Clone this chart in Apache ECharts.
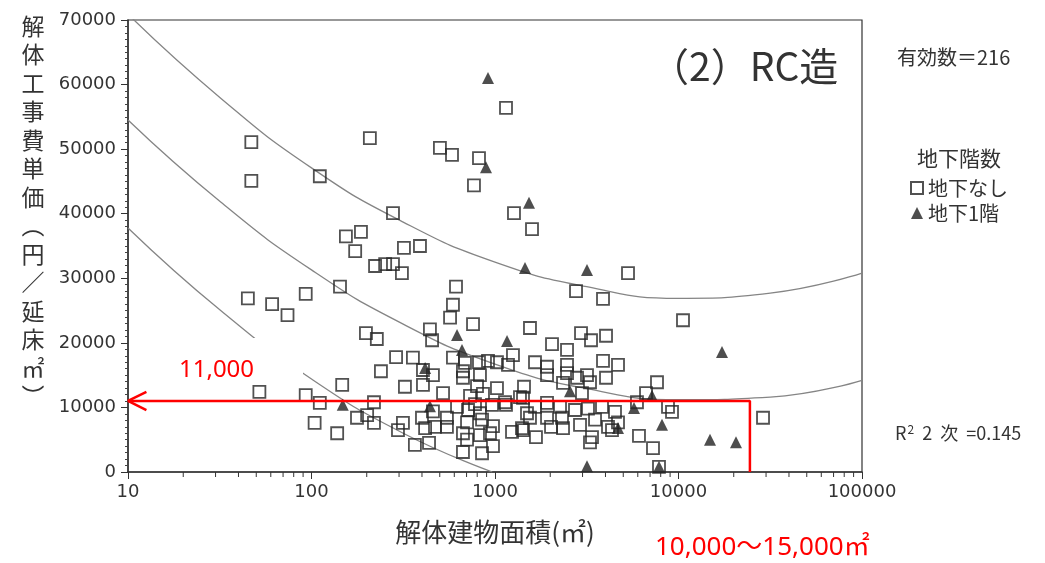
<!DOCTYPE html>
<html>
<head>
<meta charset="utf-8">
<script src="https://cdn.jsdelivr.net/npm/echarts@6/dist/echarts.min.js"></script>
<style>
  html, body { margin: 0; padding: 0; background: #fff; }
  #chart { width: 1045px; height: 563px; }
</style>
</head>
<body>
<div id="chart"></div>
<script>
// [延床面積 m², 単価 円/m²]
const noBasement = [
  [47, 51100], [47, 45100], [111, 45800], [208, 51700], [501, 50200], [583, 49100],
  [818, 48600], [768, 44400], [1148, 56400], [1269, 40100], [278, 40100], [1591, 37600],
  [154, 36500], [186, 37200], [173, 34200], [319, 34700], [390, 35000], [222, 31900],
  [252, 32200], [278, 32200], [311, 30800], [143, 28700], [613, 28700], [590, 25900],
  [45, 26900], [61, 26000], [74, 24300], [93, 27600], [52, 12400], [93, 11900],
  [111, 10700], [147, 13500], [219, 10800], [104, 7600], [138, 6000], [177, 8400],
  [201, 8800], [219, 7600], [198, 21500], [227, 20600], [239, 15600], [289, 17800],
  [357, 17700], [442, 22100], [454, 20400], [569, 23900], [759, 22900], [590, 17700],
  [459, 15000], [405, 15800], [669, 15600], [686, 16900], [818, 17000], [916, 17200],
  [1025, 17000], [1177, 16600], [1253, 18100], [323, 13200], [405, 13500], [521, 12200],
  [798, 13300], [1025, 13000], [1439, 13200], [669, 14600], [828, 15000], [731, 11800],
  [860, 12100], [1148, 10400], [1368, 11600], [778, 10500], [400, 8400], [459, 9400],
  [547, 8400], [621, 10100], [713, 9600], [828, 9100], [963, 10400], [315, 7600],
  [296, 6500], [416, 6800], [471, 7000], [547, 7000], [704, 7700], [850, 8100],
  [975, 7100], [1238, 6200], [1403, 6800], [669, 6000], [828, 5700], [939, 6000],
  [366, 4200], [437, 4500], [704, 5000], [669, 3100], [850, 2900], [975, 4000],
  [5307, 30800], [2764, 28000], [3878, 26800], [10580, 23500], [1551, 22300], [2943, 21500],
  [3336, 20400], [4027, 21100], [2045, 19800], [2469, 18900], [1652, 17000], [1921, 16300],
  [1921, 15000], [2469, 16600], [3878, 17200], [4681, 16600], [2469, 15300], [3172, 15000],
  [4027, 14600], [2799, 14600], [2348, 13800], [3294, 13900], [2979, 12200], [7635, 13900],
  [6653, 12200], [5939, 10800], [8767, 10100], [9218, 9300], [28880, 8400], [1134, 10800],
  [1421, 11500], [1652, 10100], [1921, 10700], [2261, 10100], [2729, 9600], [3212, 9800],
  [3829, 10100], [4508, 9300], [1551, 8400], [1921, 8400], [2318, 8400], [2906, 7300],
  [3508, 8100], [4129, 7000], [4681, 7700], [1421, 6500], [1672, 5400], [2020, 7000],
  [2348, 6800], [3378, 5400], [3294, 4600], [6090, 5600], [7261, 3700], [7829, 800],
  [4341, 6500], [1494, 9100]
];
const oneBasement = [
  [916, 61000], [893, 47200], [1532, 41700], [1457, 31600], [3172, 31300], [17260, 18600],
  [621, 21200], [661, 18900], [1163, 20300], [416, 16100], [442, 10200], [148, 10400],
  [2563, 12500], [7172, 11800], [5721, 9900], [4681, 6800], [8131, 7300], [14850, 5000],
  [20580, 4600], [3172, 900], [7829, 800]
];
// quadratic fit and its band, every half decade
const upperBand = [
  [10, 70900], [32, 57900], [100, 47100], [316, 38700], [1000, 32500],
  [3162, 28700], [10000, 26900], [31623, 27700], [100000, 30800]
];
const fitCurve = [
  [10, 54500], [32, 41800], [100, 31300], [316, 22900], [1000, 16700],
  [3162, 12900], [10000, 11200], [31623, 11600], [100000, 14200]
];
const lowerBand = [
  [10, 37800], [32, 25000], [100, 14400], [316, 6000], [966, 0]
];
// red annotation: 11,000 円 at the upper end of the 10,000～15,000㎡ range
const markerPath = [[24500, 0], [24500, 11000], [10, 11000]];
const arrowHead = [[12.6, 12400], [10, 11000], [12.6, 9600]];

const decades = [10, 100, 1000, 10000];
const minorSteps = [2, 3, 4, 5, 6, 7, 8, 9];
const xMinorTicks = [];
decades.forEach((d) => minorSteps.forEach((m) => xMinorTicks.push([d * m, 0])));

const jp = '"Noto Sans CJK JP", sans-serif';
const num = '"DejaVu Sans", sans-serif';
const ink = '#333';
const yTitle = ['解', '体', '工', '事', '費', '単', '価', '︵', '円', '／', '延', '床', '㎡', '︶'];

const chart = echarts.init(document.getElementById('chart'));
const curveStyle = { color: '#858585', width: 1.3 };

chart.setOption({
  animation: false,
  backgroundColor: '#fff',
  grid: { left: 128, right: 183, top: 20, bottom: 91, show: true, borderColor: ink, borderWidth: 1.2 },
  xAxis: {
    type: 'log', logBase: 10, min: 10, max: 100000,
    name: '解体建物面積(㎡)', nameLocation: 'middle', nameGap: 47,
    nameTextStyle: { fontFamily: jp, fontSize: 26, color: ink },
    axisLine: { lineStyle: { color: ink, width: 1.5 } },
    axisTick: { length: 7, lineStyle: { color: ink } },
    axisLabel: { fontFamily: num, fontSize: 18, color: ink, margin: 11, formatter: (v) => String(v) },
    splitLine: { show: false }
  },
  yAxis: {
    type: 'value', min: 0, max: 70000, interval: 10000,
    axisLine: { show: true, lineStyle: { color: ink, width: 1.5 } },
    axisTick: { show: true, length: 7, lineStyle: { color: ink } },
    minorTick: { show: true, splitNumber: 10, length: 3, lineStyle: { color: '#444' } },
    axisLabel: { fontFamily: num, fontSize: 18, color: ink, margin: 12, formatter: (v) => String(v) },
    splitLine: { show: false }
  },
  legend: {
    data: ['地下なし', '地下1階'],
    orient: 'vertical', left: 905, top: 173,
    itemWidth: 12, itemHeight: 12, itemGap: 5,
    textStyle: { fontFamily: jp, fontSize: 20, color: ink }
  },
  series: [
    { type: 'line', data: upperBand, smooth: true, symbol: 'none', lineStyle: curveStyle, silent: true, z: 1 },
    { type: 'line', data: fitCurve, smooth: true, symbol: 'none', lineStyle: curveStyle, silent: true, z: 1 },
    { type: 'line', data: lowerBand, smooth: true, symbol: 'none', lineStyle: curveStyle, silent: true, z: 1 },
    {
      name: '地下なし', type: 'scatter', data: noBasement, symbol: 'rect', symbolSize: 12,
      itemStyle: { color: 'rgba(255,255,255,0)', borderColor: '#262626', borderWidth: 1.8 }, z: 4
    },
    {
      name: '地下1階', type: 'scatter', data: oneBasement, symbol: 'triangle', symbolSize: 12,
      itemStyle: { color: '#222' }, z: 4
    },
    {
      type: 'custom', data: xMinorTicks, silent: true, clip: false, z: 3,
      renderItem: (params, api) => {
        const p = api.coord([api.value(0), api.value(1)]);
        return {
          type: 'line',
          shape: { x1: p[0], y1: p[1], x2: p[0], y2: p[1] + 5 },
          style: { stroke: ink, lineWidth: 1 }
        };
      }
    },
    {
      type: 'line', data: markerPath, symbol: 'none', clip: false, silent: true, z: 6,
      lineStyle: { color: '#f00', width: 2.5 }
    },
    {
      type: 'line', data: arrowHead, symbol: 'none', clip: false, silent: true, z: 6,
      lineStyle: { color: '#f00', width: 2.5 }
    }
  ],
  graphic: [
    { type: 'rect', shape: { x: 131, y: 338, width: 172, height: 48 }, style: { fill: '#fff' }, z: 3 },
    { type: 'text', z: 7, style: { text: '11,000', x: 179, y: 370, fill: '#f00', font: '24px "Noto Sans", sans-serif', textVerticalAlign: 'middle' } },
    { type: 'text', z: 7, style: { text: '10,000～15,000㎡', x: 655, y: 548, fill: '#f00', font: '26px "Noto Sans", "Noto Sans CJK JP", sans-serif', textVerticalAlign: 'middle' } },
    { type: 'text', z: 7, style: { text: '（2）RC造', x: 650, y: 66, fill: ink, font: '39px ' + jp, textVerticalAlign: 'middle' } },
    { type: 'text', z: 7, style: { text: '有効数＝216', x: 897, y: 57, fill: ink, font: '20px ' + jp, textVerticalAlign: 'middle' } },
    { type: 'text', z: 7, style: { text: '地下階数', x: 917, y: 158, fill: ink, font: '21px ' + jp, textVerticalAlign: 'middle' } },
    {
      type: 'text', z: 7,
      style: {
        text: '{r|R}{s|2}{r|  2  次  =0.145}', x: 895, y: 433, textVerticalAlign: 'middle',
        rich: {
          r: { fontFamily: jp, fontSize: 18, fill: ink },
          s: { fontFamily: jp, fontSize: 12, fill: ink, verticalAlign: 'top', padding: [0, 0, 8, 1] }
        }
      }
    },
    { type: 'text', z: 7, style: { text: yTitle.join('\n'), x: 33, y: 12, fill: ink, font: '23px ' + jp, lineHeight: 28.5, textAlign: 'center' } }
  ]
});
</script>
</body>
</html>
